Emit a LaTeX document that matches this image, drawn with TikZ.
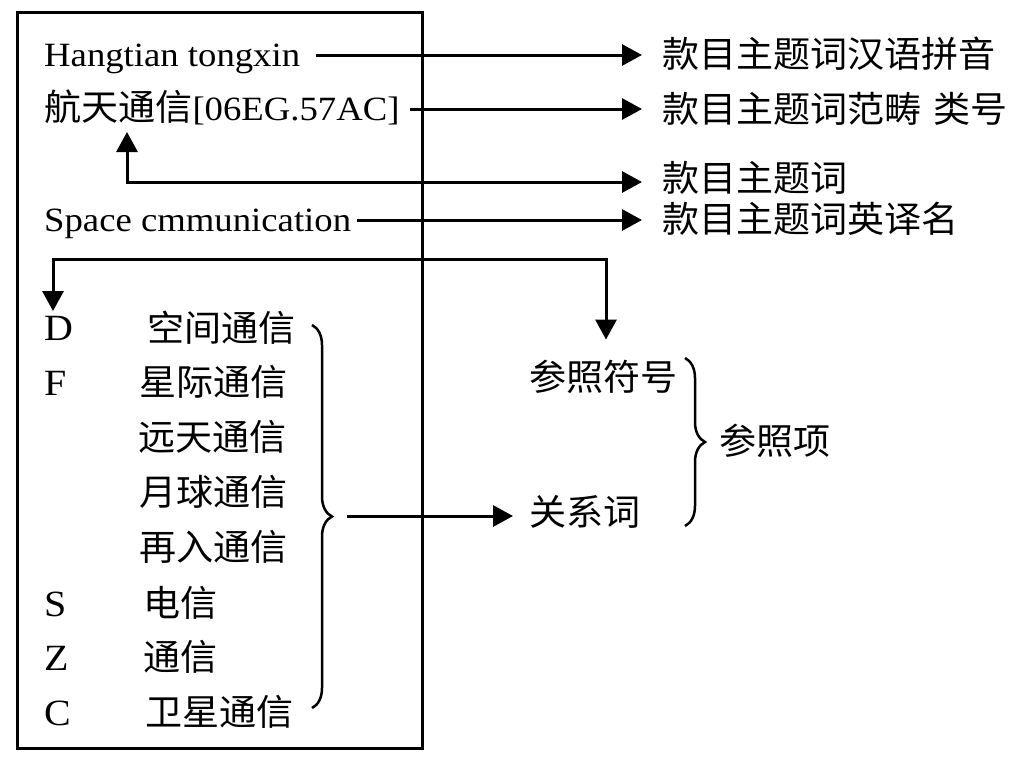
\documentclass[tikz,border=0pt]{standalone}
\usepackage{fontspec}
\setmainfont{Liberation Serif}[FakeStretch=1.08]
\newfontfamily\cjk{Noto Sans CJK SC}[Scale=1.0588,FakeStretch=1.03]
\usetikzlibrary{arrows.meta,decorations.pathreplacing}
\tikzset{
  lat/.style={anchor=west,inner sep=0pt,font=\fontsize{34}{40}\selectfont,text height=26pt,text depth=3.5pt},
  letter/.style={anchor=west,inner sep=0pt,font=\fontsize{37}{42}\selectfont,text height=28pt,text depth=3.5pt},
  cj/.style={anchor=west,inner sep=0pt,font=\fontsize{34}{40}\selectfont\cjk,text height=31pt,text depth=3.5pt},
  tip/.tip={Triangle[length=20pt,width=21pt]},
  conn/.style={line width=3pt,-tip},
  dconn/.style={line width=3pt,tip-tip},
  bracebar/.style={line width=2.5pt,decorate,decoration={brace,amplitude=20pt}},
}
\begin{document}
\begin{tikzpicture}[x=1pt,y=1pt]
\useasboundingbox (0,0) rectangle (1020,-766);
% frame
\draw[line width=3pt] (17,-12) rectangle (422,-748);
% header entries
\node[lat] (hang) at (44,-55) {Hangtian tongxin};
\node[lat] (hz) at (44,-109) {{\cjk 航天通信}[06EG.57AC]};
\node[lat] (spc) at (44,-220) {Space cmmunication};
\node[cj] (t1) at (662,-54) {款目主题词汉语拼音};
\node[cj] (t2) at (662,-109) {款目主题词范畴\hspace{12pt}类号};
\node[cj] (t3) at (662,-178) {款目主题词};
\node[cj] (t4) at (662,-219) {款目主题词英译名};
\draw[conn] ([xshift=16pt]hang.east) -- ([xshift=-20pt]hang.east -| t1.west);
\draw[conn] ([xshift=10pt]hz.east) -- ([xshift=-20pt]hz.east -| t2.west);
\draw[conn] ([xshift=6pt]spc.east) -- ([xshift=-20pt]spc.east -| t4.west);
\coordinate (uptip) at (127,-132);
\coordinate (corner) at (127,-182);
\draw[dconn] (uptip) -- (corner) -- ([xshift=-20pt]corner -| t3.west);
% reference lines
\node[letter] (D) at (44,-328) {D};
\node[letter] (F) at (44,-383) {F};
\node[letter] (S) at (44,-604) {S};
\node[letter] (Z) at (44,-658) {Z};
\node[letter] (C) at (44,-713) {C};
\node[cj] (c1) at (147,-328) {空间通信};
\node[cj] (c2) at (139,-382) {星际通信};
\node[cj] (c3) at (138,-437) {远天通信};
\node[cj] (c4) at (139,-492) {月球通信};
\node[cj] (c5) at (139,-547) {再入通信};
\node[cj] (c6) at (143,-603) {电信};
\node[cj] (c7) at (143,-657) {通信};
\node[cj] (c8) at (145,-712) {卫星通信};
\node[cj] (ref) at (529,-377) {参照符号};
\node[cj] (rel) at (529,-512) {关系词};
\node[cj] (item) at (719,-441) {参照项};
\coordinate (jl) at (53,-259);
\coordinate (jr) at (606,-259);
\draw[dconn] ([yshift=1pt]jl |- D.north) -- (jl) -- (jr) -- ([yshift=20pt]jr |- ref.north);
% braces
\coordinate (lbt) at (312,-325);
\coordinate (lbb) at (312,-708);
\coordinate (lbtip) at (332,-516);
\draw[bracebar] (lbt) -- (lbb);
\draw[conn] ([xshift=15pt]lbtip) -- ([xshift=-16pt]lbtip -| rel.west);
\coordinate (rbt) at (685,-358);
\coordinate (rbb) at (685,-526);
\draw[bracebar] (rbt) -- (rbb);
\end{tikzpicture}
\end{document}
